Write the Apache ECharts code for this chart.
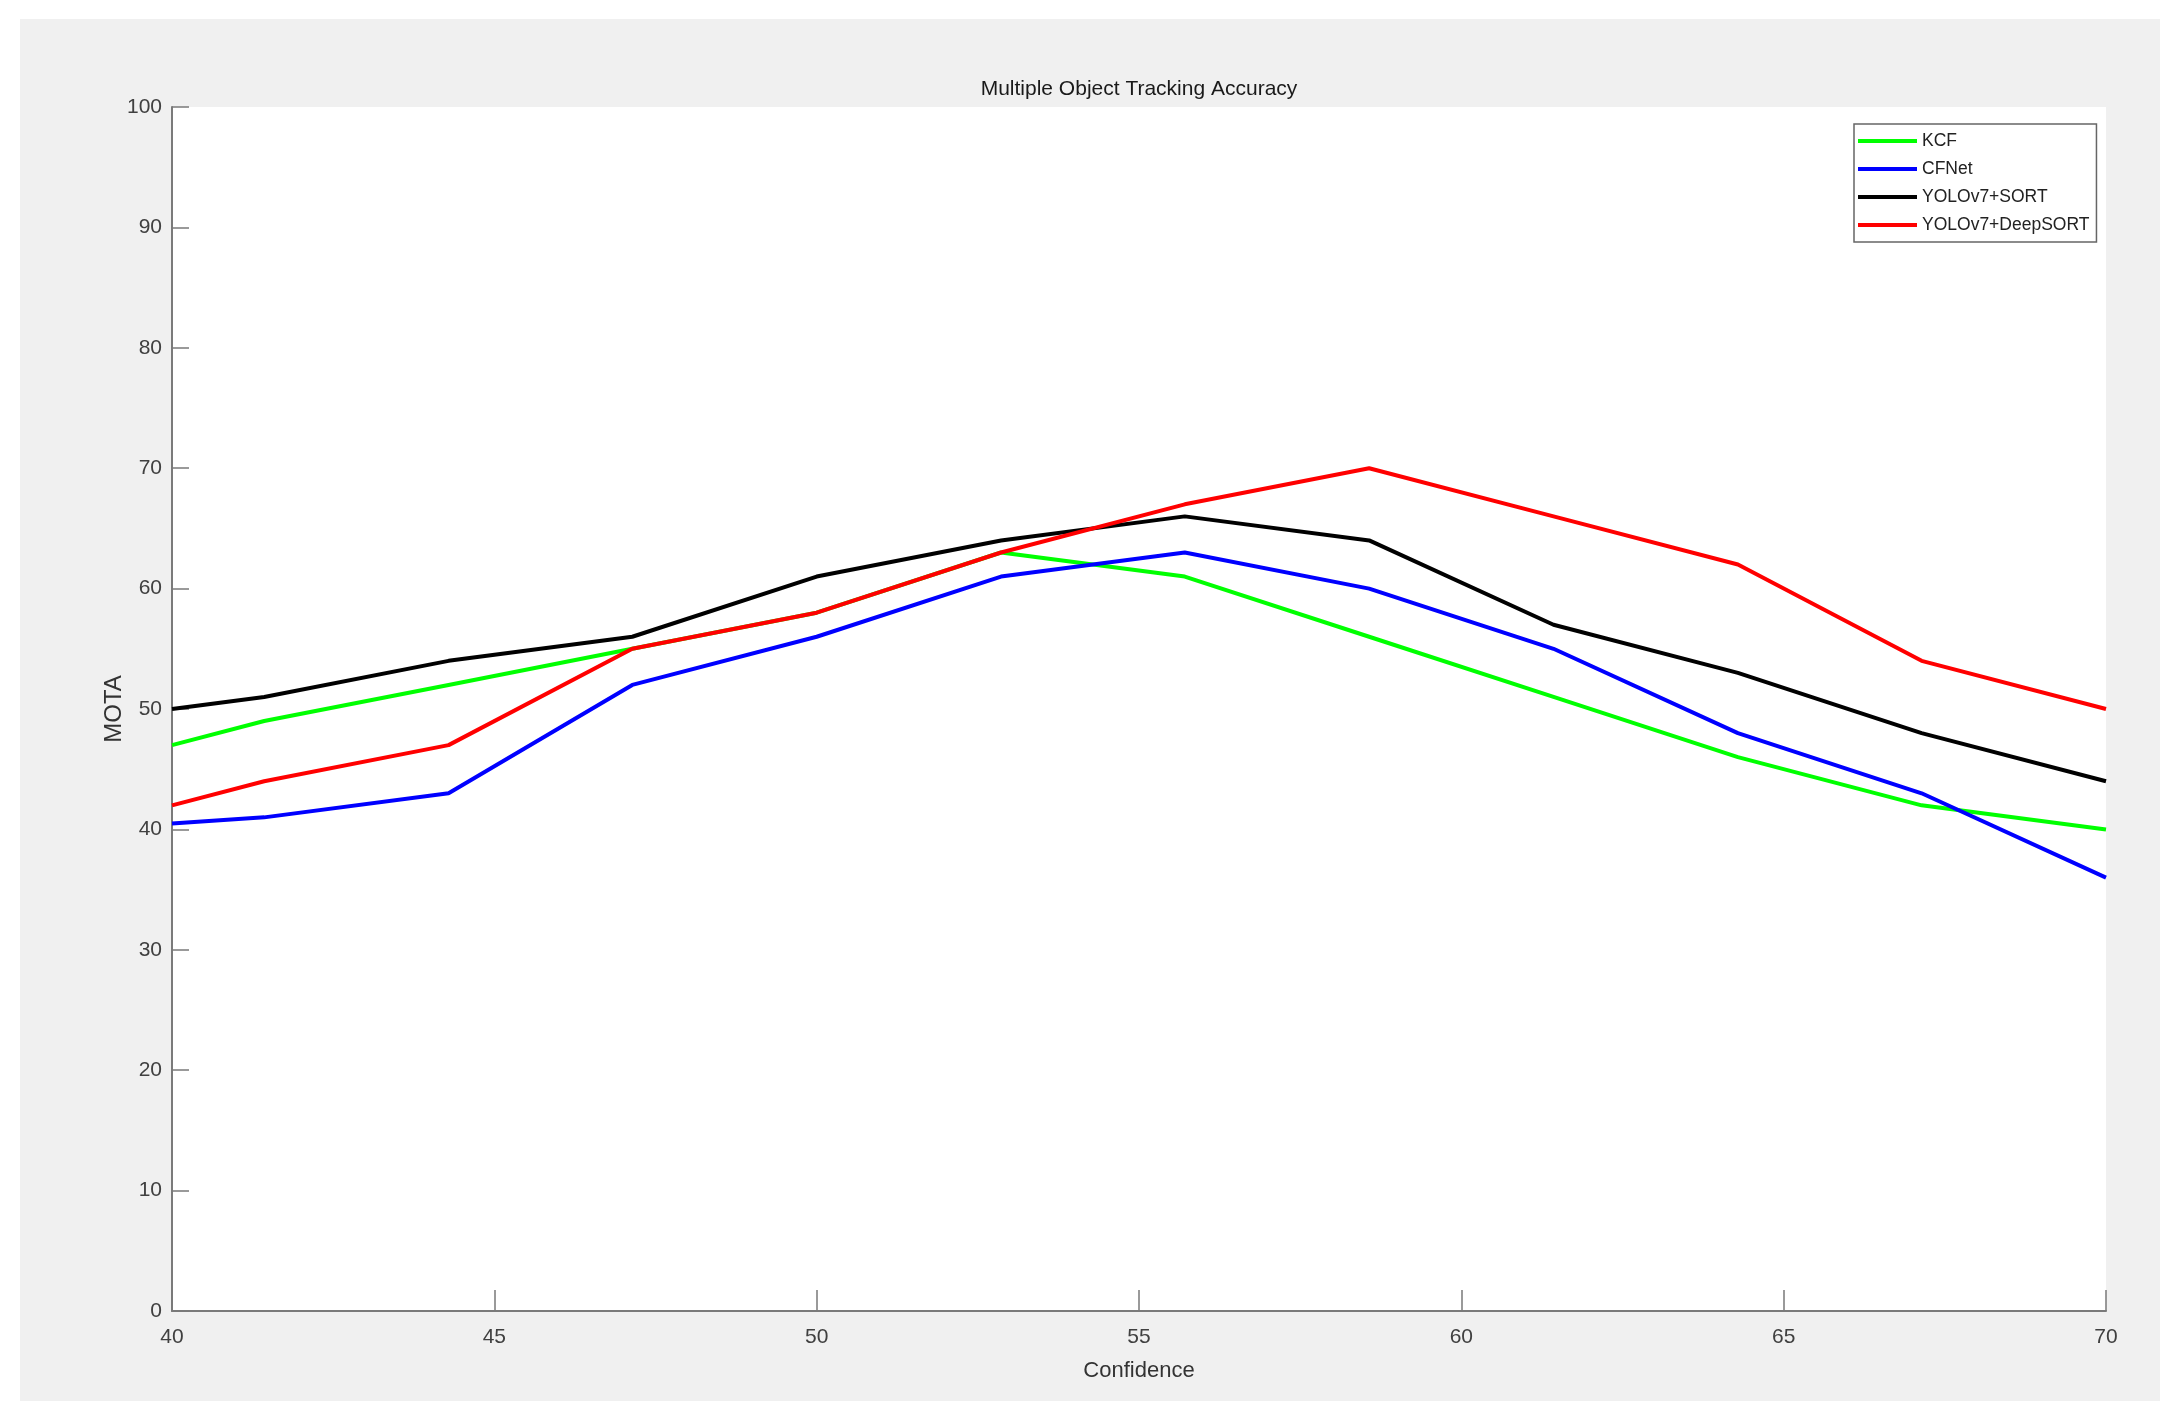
<!DOCTYPE html>
<html>
<head>
<meta charset="utf-8">
<script src="https://cdn.jsdelivr.net/npm/echarts@6/dist/echarts.min.js"></script>
<style>
  html, body { margin: 0; padding: 0; background: #ffffff; }
  #wrap { position: relative; width: 2175px; height: 1419px; }
  #bg { position: absolute; left: 20px; top: 19px; width: 2140px; height: 1382px; background: #f0f0f0; }
  #chart { position: absolute; left: 0; top: 0; width: 2175px; height: 1419px; }
</style>
</head>
<body>
<div id="wrap"><div id="bg"></div><div id="chart"></div></div>
<script>
// Confidence values (x)
const confidence = [40, 41.43, 44.29, 47.14, 50, 52.86, 55.71, 58.57, 61.43, 64.29, 67.14, 70];
// MOTA values per tracker
const kcf        = [47, 49, 52, 55, 58, 63, 61, 56, 51, 46, 42, 40];
const cfnet      = [40.5, 41, 43, 52, 56, 61, 63, 60, 55, 48, 43, 36];
const yoloSort   = [50, 51, 54, 56, 61, 64, 66, 64, 57, 53, 48, 44];
const yoloDeep   = [42, 44, 47, 55, 58, 63, 67, 70, 66, 62, 54, 50];
const seriesNames = ['KCF', 'CFNet', 'YOLOv7+SORT', 'YOLOv7+DeepSORT'];
const seriesColors = ['#00ff00', '#0000ff', '#000000', '#ff0000'];
const xTicks = [40, 45, 50, 55, 60, 65, 70];
const yTicks = [0, 10, 20, 30, 40, 50, 60, 70, 80, 90, 100];

const allValues = [kcf, cfnet, yoloSort, yoloDeep];
const pair = (ys) => confidence.map((x, i) => [x, ys[i]]);

const chart = echarts.init(document.getElementById('chart'), null, { renderer: 'canvas' });
const font = "'Liberation Sans', Arial, sans-serif";

chart.setOption({
  backgroundColor: 'transparent',
  animation: false,
  title: {
    text: 'Multiple Object Tracking Accuracy',
    left: 1134,
    textAlign: 'center',
    top: 74,
    textStyle: { fontFamily: font, fontSize: 21, fontWeight: 'normal', color: '#1a1a1a' }
  },
  legend: {
    orient: 'vertical',
    left: 1854,
    top: 124,
    data: seriesNames,
    icon: 'rect',
    itemWidth: 59,
    itemHeight: 4,
    itemGap: 6,
    padding: [6, 7, 6, 4],
    borderColor: '#666',
    borderWidth: 1.5,
    backgroundColor: '#ffffff',
    textStyle: { fontFamily: font, fontSize: 17.5, color: '#222', lineHeight: 22 }
  },
  grid: {
    left: 172, right: 69, top: 107, bottom: 108,
    show: true, backgroundColor: '#ffffff', borderWidth: 0
  },
  xAxis: {
    type: 'value',
    min: xTicks[0], max: xTicks[xTicks.length - 1], interval: 5,
    name: 'Confidence',
    nameLocation: 'middle',
    nameGap: 49,
    nameMoveOverlap: false,
    nameTextStyle: { fontFamily: font, fontSize: 22, color: '#333' },
    axisLine: { show: true, onZero: false, lineStyle: { color: '#7a7a7a', width: 2 } },
    axisTick: { show: true, inside: true, length: 21, lineStyle: { color: '#7a7a7a', width: 1.5 } },
    axisLabel: { fontFamily: font, fontSize: 21, color: '#404040', margin: 16 },
    splitLine: { show: false }
  },
  yAxis: {
    type: 'value',
    min: yTicks[0], max: yTicks[yTicks.length - 1], interval: 10,
    name: 'MOTA',
    nameLocation: 'middle',
    nameGap: 46,
    nameMoveOverlap: false,
    nameRotate: 90,
    nameTextStyle: { fontFamily: font, fontSize: 24, color: '#333' },
    axisLine: { show: true, onZero: false, lineStyle: { color: '#7a7a7a', width: 2 } },
    axisTick: { show: true, inside: true, length: 17, lineStyle: { color: '#7a7a7a', width: 1.5 } },
    axisLabel: { fontFamily: font, fontSize: 21, color: '#404040', margin: 10 },
    splitLine: { show: false }
  },
  series: seriesNames.map((name, i) => ({
    name: name,
    type: 'line',
    data: pair(allValues[i]),
    symbol: 'none',
    color: seriesColors[i],
    lineStyle: { color: seriesColors[i], width: 4 },
    z: 2 + i
  }))
});
</script>
</body>
</html>
